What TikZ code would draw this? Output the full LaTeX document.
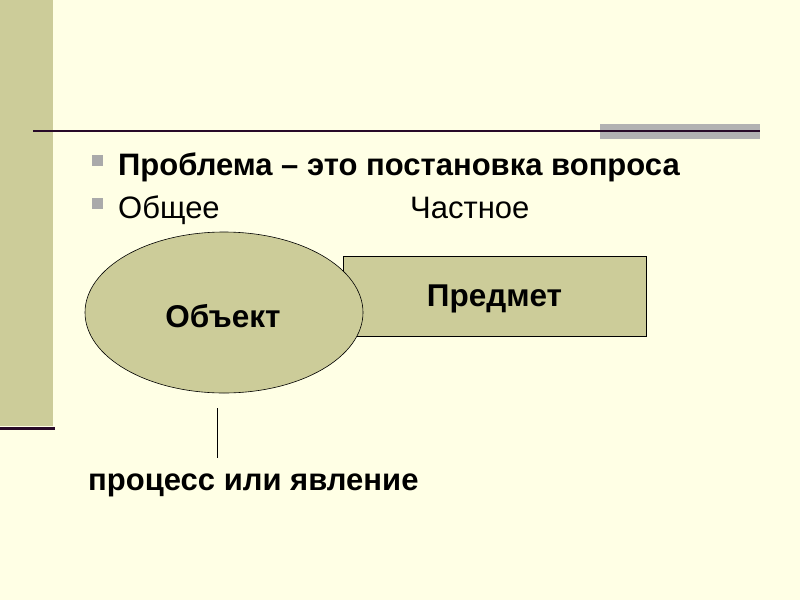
\documentclass[tikz,border=0pt]{standalone}
\usepackage{fontspec}
\setmainfont{Liberation Sans}
\usetikzlibrary{shapes.geometric}
\definecolor{bg}{RGB}{255,255,229}
\definecolor{khaki}{RGB}{204,204,153}
\definecolor{darkline}{RGB}{40,10,40}
\definecolor{graybar}{RGB}{178,178,178}
\definecolor{bulletgray}{RGB}{170,170,170}
\tikzset{
  bigtxt/.style={font=\fontsize{31}{34}\selectfont, anchor=base west, inner sep=0pt},
  shapetxt/.style={font=\bfseries\fontsize{31.5}{34}\selectfont},
  bulletsq/.style={fill=bulletgray, draw=none, minimum size=11pt, inner sep=0pt},
}
\begin{document}
\begin{tikzpicture}[x=1pt,y=-1pt]
\fill[bg] (0,0) rectangle (800,600);
\useasboundingbox (0,0) rectangle (800,600);
% left bar
\fill[khaki] (0,0) rectangle (53,426);
\draw[darkline, line width=3pt] (0,428) -- (55,428);
% top rule with gray bar
\fill[graybar] (600,124) rectangle (760,139);
\draw[darkline, line width=2.5pt] (33,131) -- (760,131);
% bullets
\node[bulletsq] (b1) at (97.5,160.5) {};
\node[bulletsq] (b2) at (97.5,203.5) {};
\node[bigtxt, font=\bfseries\fontsize{31}{34}\selectfont] (t1) at (118,175) {Проблема – это постановка вопроса};
\node[bigtxt] (t2) at (118,218) {Общее};
\node[bigtxt] (t3) at (410,218) {Частное};
% shapes
\node[draw=black, fill=khaki, line width=0.8pt, minimum width=303pt, minimum height=80pt, inner sep=0pt] (pred) at (494.5,296) {};
\node[shapetxt] (predtxt) at (494.5,299) {Предмет};
\node[ellipse, draw=black, fill=khaki, line width=0.6pt, minimum width=278pt, minimum height=161pt, inner sep=0pt] (obj) at (224,312.5) {};
\node[shapetxt] (objtxt) at (223,316) {Объект};
% vertical line
\coordinate (vtop) at (217,408);
\coordinate (vbot) at (217,458);
\draw[black, line width=0.8pt] (vtop) -- (vbot);
\node[bigtxt, font=\bfseries\fontsize{31}{34}\selectfont] (proc) at (88,490) {процесс или явление};
\end{tikzpicture}
\end{document}
